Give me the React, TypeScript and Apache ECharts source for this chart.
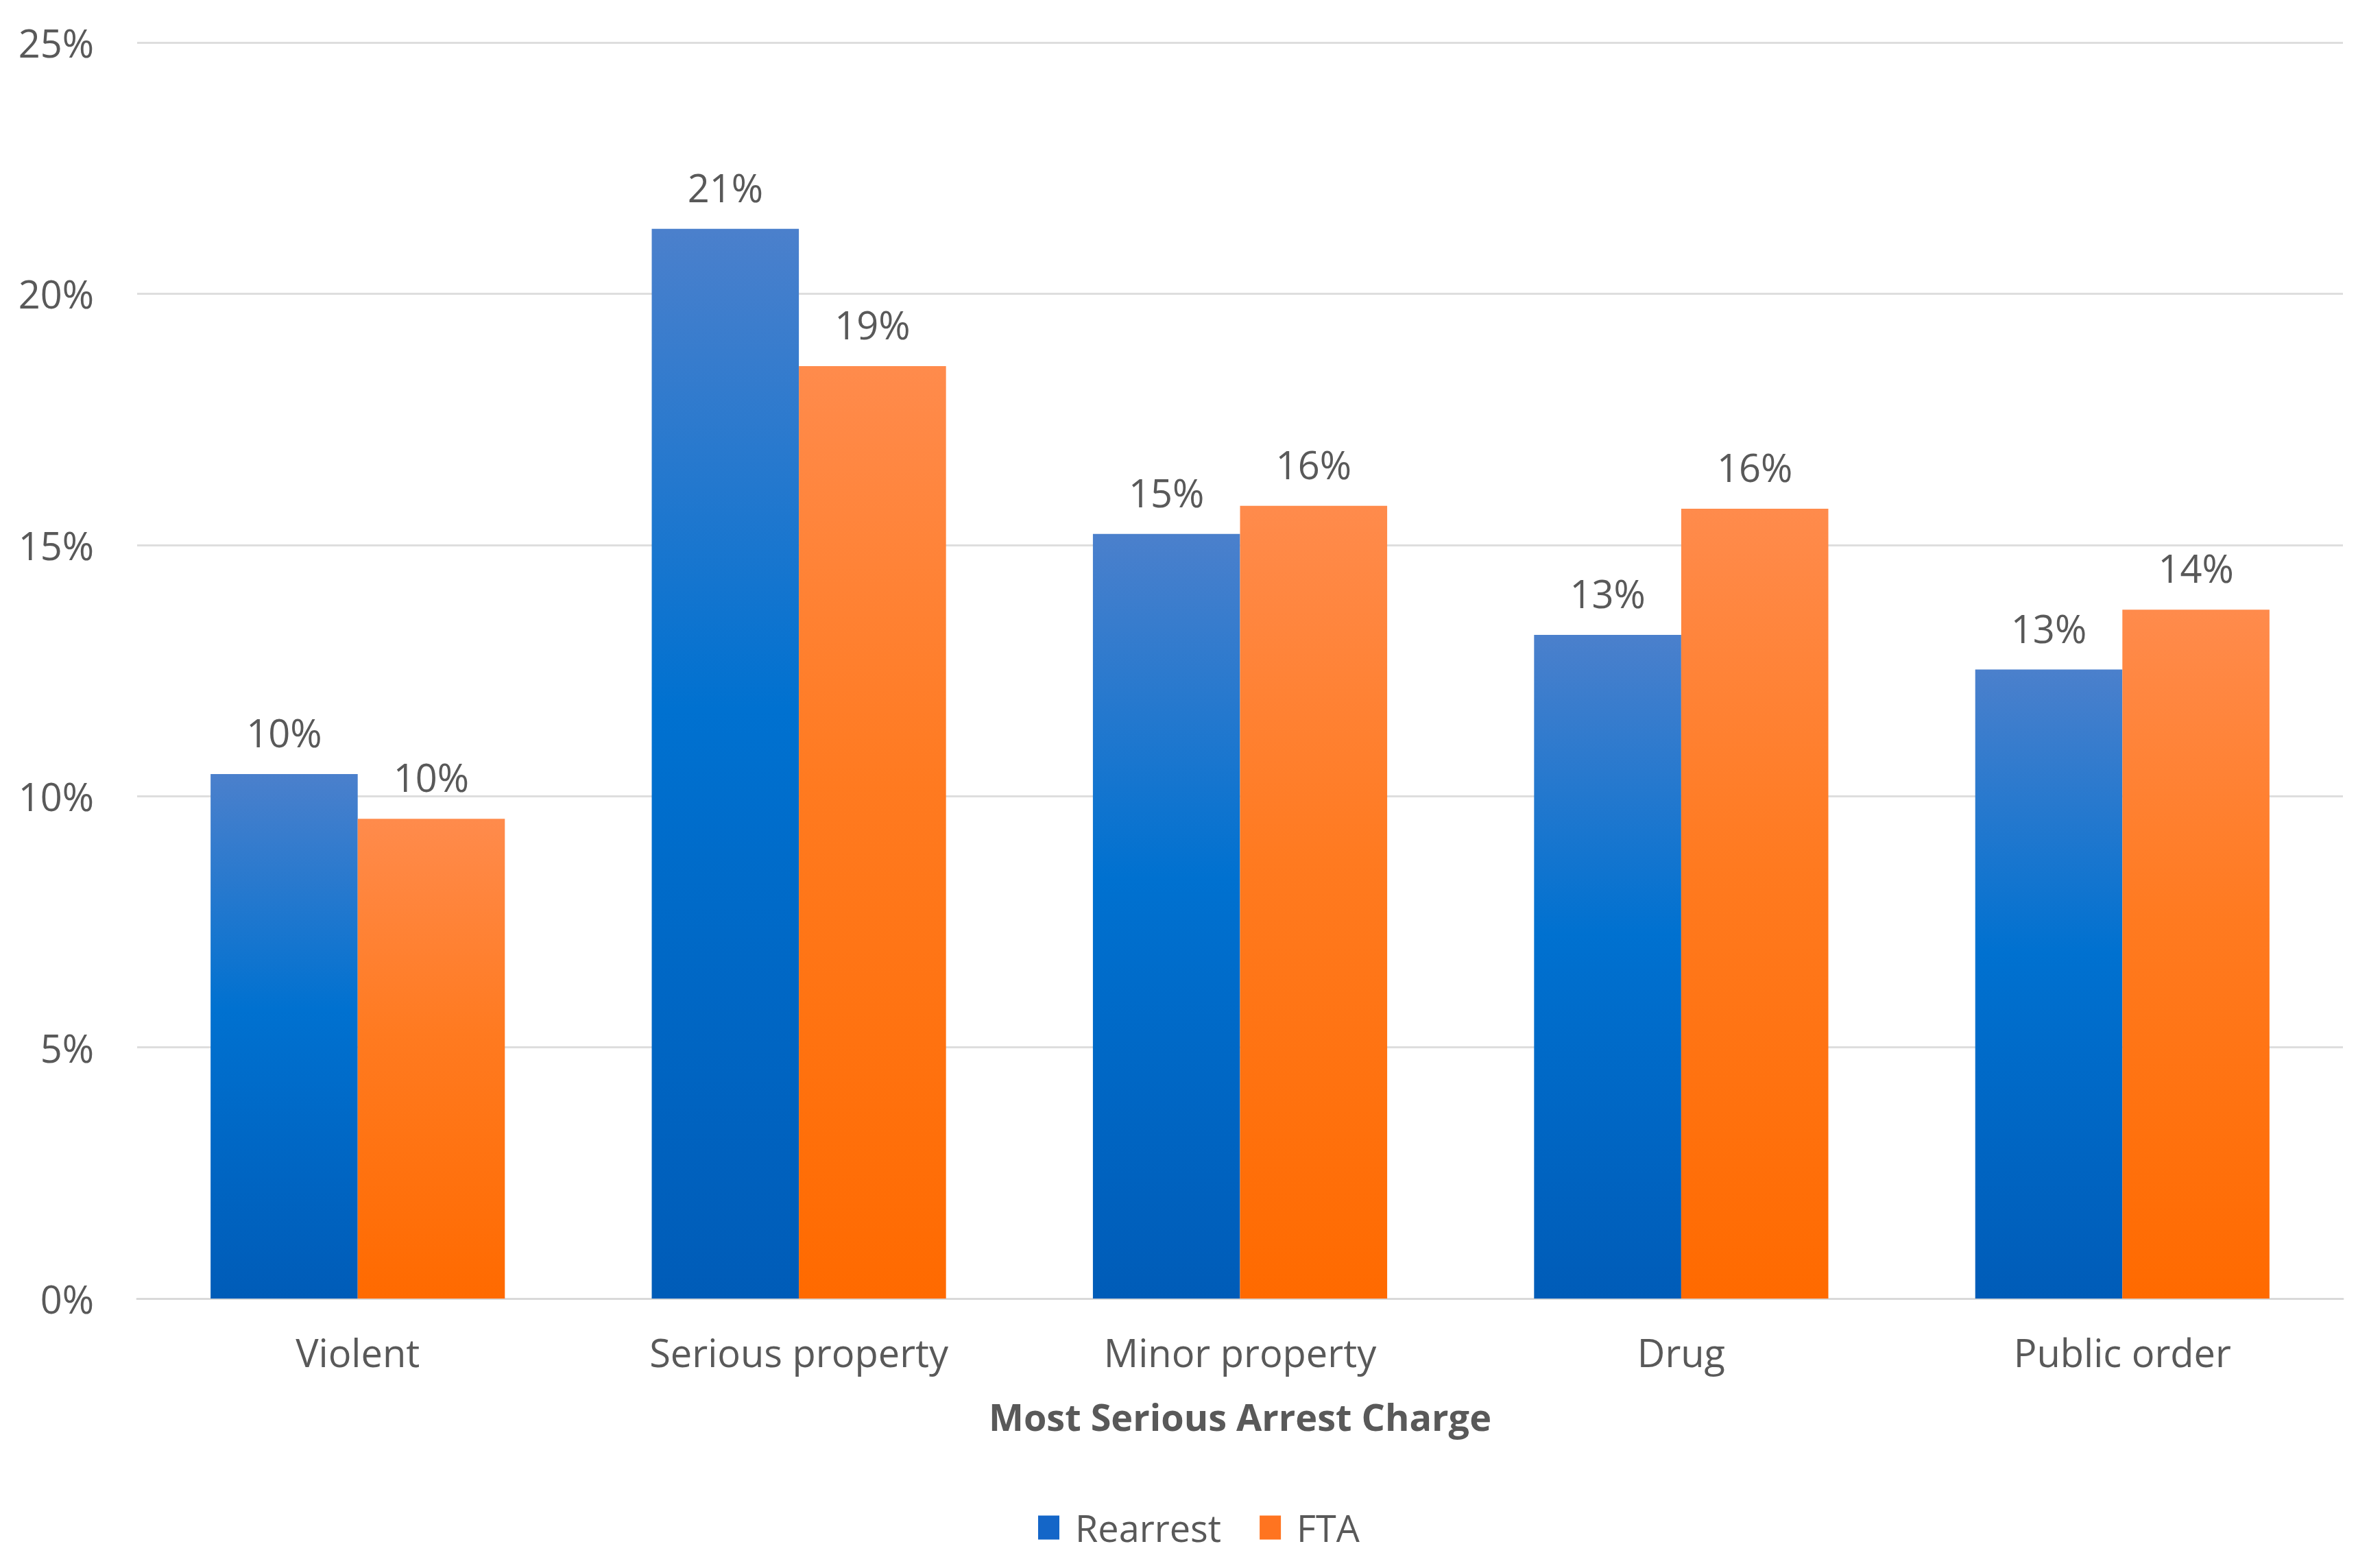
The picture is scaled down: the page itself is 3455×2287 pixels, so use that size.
import React, { useEffect, useRef } from "react";
import * as echarts from "echarts";

const categories = ["Violent", "Serious property", "Minor property", "Drug", "Public order"];
const rearrest = [10.44, 21.29, 15.22, 13.21, 12.52];
const fta = [9.55, 18.56, 15.78, 15.72, 13.71];
const yTicks = [0, 5, 10, 15, 20, 25];

const FONT = "'Open Sans', 'Noto Sans', sans-serif";
const TEXT = "#595959";

const blueGrad = new echarts.graphic.LinearGradient(0, 0, 0, 1, [
  { offset: 0, color: "#4b80cc" },
  { offset: 0.45, color: "#0071d0" },
  { offset: 1, color: "#005cb8" },
]);
const orangeGrad = new echarts.graphic.LinearGradient(0, 0, 0, 1, [
  { offset: 0, color: "#ff8b4c" },
  { offset: 0.45, color: "#ff7a20" },
  { offset: 1, color: "#ff6a00" },
]);

export default function App() {
  const ref = useRef<HTMLDivElement>(null);
  useEffect(() => {
    if (!ref.current) return;
    const chart = echarts.init(ref.current, null, { renderer: "svg" });
    const label = {
      show: true,
      position: "top",
      distance: 33,
      fontFamily: FONT,
      fontSize: 56,
      color: TEXT,
      formatter: (p: any) => Math.round(p.value) + "%",
    };
    chart.setOption({
      animation: false,
      backgroundColor: "#ffffff",
      grid: { left: 200, right: 38, top: 62, bottom: 393, containLabel: false },
      legend: {
        left: 1509,
        top: 2196,
        itemWidth: 31,
        itemHeight: 35,
        itemGap: 56,
        icon: "rect",
        textStyle: { fontFamily: FONT, fontSize: 54, color: TEXT, padding: [0, 0, 0, 18] },
        data: [
          { name: "Rearrest", itemStyle: { color: "#1466c8" } },
          { name: "FTA", itemStyle: { color: "#ff7420" } },
        ],
      },
      xAxis: {
        type: "category",
        data: categories,
        name: "Most Serious Arrest Charge",
        nameLocation: "middle",
        nameGap: 145,
        nameTextStyle: { fontFamily: FONT, fontSize: 54, fontWeight: "bold", color: TEXT },
        axisLine: { show: true, lineStyle: { color: "#d9d9d9", width: 3 } },
        axisTick: { show: false },
        axisLabel: { fontFamily: FONT, fontSize: 56, color: TEXT, margin: 50 },
      },
      yAxis: {
        type: "value",
        min: yTicks[0],
        max: yTicks[yTicks.length - 1],
        interval: 5,
        axisLine: { show: false },
        axisTick: { show: false },
        splitLine: { lineStyle: { color: "#dedede", width: 3 } },
        axisLabel: {
          fontFamily: FONT,
          fontSize: 56,
          color: TEXT,
          margin: 63,
          formatter: (v: number) => v + "%",
        },
      },
      series: [
        {
          name: "Rearrest",
          type: "bar",
          data: rearrest,
          barGap: "0%",
          barCategoryGap: "33.3%",
          itemStyle: { color: blueGrad },
          label,
        },
        {
          name: "FTA",
          type: "bar",
          data: fta,
          barGap: "0%",
          barCategoryGap: "33.3%",
          itemStyle: { color: orangeGrad },
          label,
        },
      ],
    });
    return () => chart.dispose();
  }, []);
  return (
    <div
      ref={ref}
      style={{ position: "fixed", left: 0, top: 0, width: "3455px", height: "2287px" }}
    />
  );
}
